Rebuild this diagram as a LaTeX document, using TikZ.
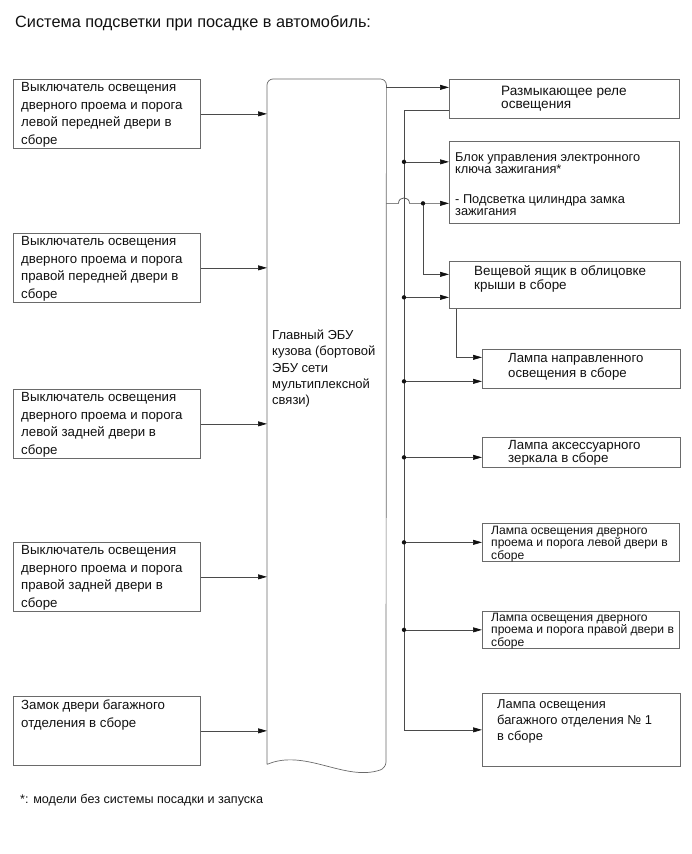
\documentclass[tikz,border=0pt]{standalone}
\usepackage{fontspec}
\setmainfont{Liberation Sans}
\usetikzlibrary{arrows.meta,calc}
\definecolor{ink}{HTML}{111111}
\definecolor{wiregray}{HTML}{4A4A4A}
\definecolor{framegray}{HTML}{6A6A6A}
\tikzset{
  flow/.style={
    -{Triangle[length=9pt,width=5pt,color=ink]},
    draw=wiregray,
    line width=0.7pt
  },
  link/.style={
    draw=wiregray,
    line width=0.7pt
  },
  unit/.style={
    draw=framegray,
    line width=0.7pt,
    anchor=north west,
    inner sep=0pt
  },
  switch/.style={
    unit,
    minimum width=187,
    minimum height=69
  },
  switch text/.style={
    anchor=west,
    align=left,
    inner sep=0pt,
    text=ink,
    font=\fontsize{13.25}{17.7}\selectfont
  },
  load text/.style={
    anchor=west,
    align=left,
    inner sep=0pt,
    text=ink,
    font=\fontsize{13.3}{13}\selectfont
  },
  small text/.style={
    anchor=west,
    align=left,
    inner sep=0pt,
    text=ink,
    font=\fontsize{12.1}{12.5}\selectfont
  }
}

\begin{document}
\begin{tikzpicture}[x=1pt,y=-1pt]
  \useasboundingbox (0,0) rectangle (691,854);

  \node[anchor=west,inner sep=0pt,text=ink,font=\fontsize{16.3}{19}\selectfont]
    (title) at (15,23) {Система подсветки при посадке в автомобиль:};

  % left column
  \node[switch] (sw-fl) at (13,79) {};
  \node[switch] (sw-fr) at (13,233) {};
  \node[switch] (sw-rl) at (13,389) {};
  \node[switch] (sw-rr) at (13,542) {};
  \node[switch] (trunk-lock) at (13,696) {};
  \node[switch text] (sw-fl-text) at ([shift={(8,1)}]sw-fl.west) {
    Выключатель освещения\\дверного проема и порога\\левой передней двери в\\сборе};
  \node[switch text] (sw-fr-text) at ([shift={(8,1)}]sw-fr.west) {
    Выключатель освещения\\дверного проема и порога\\правой передней двери в\\сборе};
  \node[switch text] (sw-rl-text) at ([shift={(8,1)}]sw-rl.west) {
    Выключатель освещения\\дверного проема и порога\\левой задней двери в\\сборе};
  \node[switch text] (sw-rr-text) at ([shift={(8,1)}]sw-rr.west) {
    Выключатель освещения\\дверного проема и порога\\правой задней двери в\\сборе};
  \node[switch text] (trunk-lock-text) at ([shift={(8,-16)}]trunk-lock.west) {
    Замок двери багажного\\отделения в сборе};

  % main body ECU
  \node[anchor=north west,minimum width=119,minimum height=685,inner sep=0pt]
    (ecu) at (267,79) {};
  \draw[link,draw=framegray,rounded corners=6pt]
    (ecu.south west) -- (ecu.north west) -- (ecu.north east) -- (386,768)
    .. controls (345,782) and (305,748) .. (ecu.south west);
  \node[switch text,font=\fontsize{13}{16.3}\selectfont] (ecu-text)
    at ([shift={(5,-53)}]ecu.west) {
    Главный ЭБУ\\кузова (бортовой\\ЭБУ сети\\мультиплексной\\связи)};

  % right column
  \node[unit,minimum width=230,minimum height=39] (relay) at (449,79) {};
  \node[unit,minimum width=230,minimum height=82] (key) at (449,141) {};
  \node[unit,minimum width=231,minimum height=47] (glove) at (449,261) {};
  \node[unit,minimum width=198,minimum height=39] (spot) at (482,349) {};
  \node[unit,minimum width=198,minimum height=30] (mirror) at (482,437) {};
  \node[unit,minimum width=197,minimum height=38] (courtesy-l) at (482,523) {};
  \node[unit,minimum width=197,minimum height=37] (courtesy-r) at (482,611) {};
  \node[unit,minimum width=198,minimum height=73] (luggage) at (482,693) {};

  \node[load text,font=\fontsize{13.6}{12.7}\selectfont] (relay-text)
    at ([shift={(52,-0.5)}]relay.west) {Размыкающее реле\\освещения};
  \node[load text,font=\fontsize{12.8}{12}\selectfont] (key-text)
    at ([shift={(6,2)}]key.west) {
    Блок управления электронного\\ключа зажигания*\\[18pt]
    - Подсветка цилиндра замка\\зажигания};
  \node[load text,font=\fontsize{13.4}{14}\selectfont] (glove-text)
    at ([shift={(25,-5.5)}]glove.west) {Вещевой ящик в облицовке\\крыши в сборе};
  \node[load text,font=\fontsize{13.2}{15}\selectfont] (spot-text)
    at ([shift={(26,-2)}]spot.west) {Лампа направленного\\освещения в сборе};
  \node[load text] (mirror-text)
    at ([shift={(26,0.5)}]mirror.west) {Лампа аксессуарного\\зеркала в сборе};
  \node[small text] (courtesy-l-text)
    at ([shift={(9,1.5)}]courtesy-l.west) {
    Лампа освещения дверного\\проема и порога левой двери в\\сборе};
  \node[small text] (courtesy-r-text)
    at ([shift={(9,1)}]courtesy-r.west) {
    Лампа освещения дверного\\проема и порога правой двери в\\сборе};
  \node[load text,font=\fontsize{12.9}{16}\selectfont] (luggage-text)
    at ([shift={(15,-8.5)}]luggage.west) {
    Лампа освещения\\багажного отделения № 1\\в сборе};

  \node[anchor=west,inner sep=0pt,text=ink,font=\fontsize{12.6}{15}\selectfont]
    (footnote) at (20,800) {*: модели без системы посадки и запуска};

  % inputs
  \draw[flow] (sw-fl.east) -- (sw-fl.east -| ecu.west);
  \draw[flow] (sw-fr.east) -- (sw-fr.east -| ecu.west);
  \draw[flow] (sw-rl.east) -- (sw-rl.east -| ecu.west);
  \draw[flow] (sw-rr.east) -- (sw-rr.east -| ecu.west);
  \draw[flow] (trunk-lock.east) -- (trunk-lock.east -| ecu.west);

  % outputs
  \coordinate (relay-in) at ([yshift=11.5pt]relay.west);
  \coordinate (relay-out) at ([yshift=-11.5pt]relay.west);
  \coordinate (bus) at ([xshift=-45pt]relay-out);
  \coordinate (key-in-1) at ([yshift=20.5pt]key.west);
  \coordinate (key-in-2) at ([yshift=-21pt]key.west);
  \coordinate (key-tap) at ($(bus |- key-in-2)+(19,0)$);
  \coordinate (glove-in-1) at ([yshift=10.5pt]glove.west);
  \coordinate (glove-in-2) at ([yshift=-12.5pt]glove.west);
  \coordinate (spot-in-1) at ([yshift=11.5pt]spot.west);
  \coordinate (spot-in-2) at ([yshift=-12.5pt]spot.west);
  \coordinate (mirror-in) at ([yshift=-5pt]mirror.west);

  \draw[flow] (relay-in -| ecu.east) -- (relay-in);
  \draw[flow] (relay-out) -- (bus) |- (luggage.west);
  \draw[flow] (bus |- key-in-1) -- (key-in-1);
  \draw[flow] (key-in-2 -| ecu.east) -- ($(bus |- key-in-2)+(-5.5,0)$)
    .. controls +(0,-7.3) and +(0,-7.3) .. ++(11,0) -- (key-in-2);
  \draw[flow] (key-tap) |- (glove-in-1);
  \draw[flow] (bus |- glove-in-2) -- (glove-in-2);
  \draw[flow] ([xshift=7pt]glove.south west) |- (spot-in-1);
  \draw[flow] (bus |- spot-in-2) -- (spot-in-2);
  \draw[flow] (bus |- mirror-in) -- (mirror-in);
  \draw[flow] (bus |- courtesy-l.west) -- (courtesy-l.west);
  \draw[flow] (bus |- courtesy-r.west) -- (courtesy-r.west);

  \foreach \tap in {key-in-1,glove-in-2,spot-in-2,mirror-in,courtesy-l.west,courtesy-r.west}
    \fill[ink] (bus |- \tap) circle[radius=2.2pt];
  \fill[ink] (key-tap) circle[radius=2.2pt];
\end{tikzpicture}
\end{document}
